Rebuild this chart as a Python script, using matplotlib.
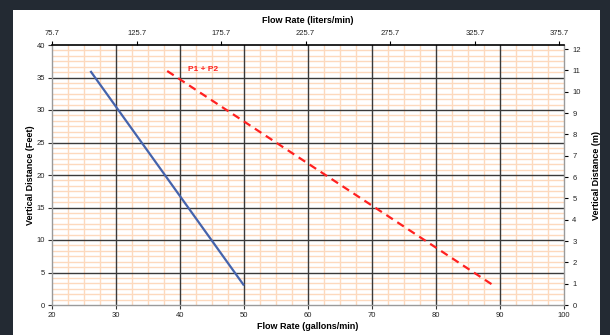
import matplotlib
matplotlib.use("Agg")
import matplotlib.pyplot as plt
from matplotlib.patches import Rectangle
from matplotlib.ticker import MultipleLocator
import numpy as np

# Data (gallons/min vs feet)
pump_gpm = [26, 50]
pump_ft = [36, 3]
combo_gpm = [38, 89]
combo_ft = [36, 3]
combo_label = "P1 + P2"

x_ticks = [20, 30, 40, 50, 60, 70, 80, 90, 100]
y_ticks = [0, 5, 10, 15, 20, 25, 30, 35, 40]
liter_ticks = [75.7, 125.7, 175.7, 225.7, 275.7, 325.7, 375.7]
meter_ticks = list(range(0, 13))

GAL_TO_L = 3.785
FT_TO_M = 0.3048

plt.rcParams["font.family"] = ["Liberation Sans", "DejaVu Sans"]

W, H = 610, 335
fig = plt.figure(figsize=(W / 100, H / 100), dpi=100)
fig.patch.set_facecolor("#232a33")
bg = Rectangle((13 / W, 0), (600 - 13) / W, (H - 10) / H,
               transform=fig.transFigure, facecolor="white",
               edgecolor="none", zorder=-10)
fig.add_artist(bg)

ax = fig.add_axes([52 / W, 1 - 305 / H, (564 - 52) / W, (305 - 45) / H])
ax.set_facecolor("white")
ax.set_xlim(20, 100)
ax.set_ylim(0, 40)

# minor grid
ax.xaxis.set_minor_locator(MultipleLocator(2.5))
ax.yaxis.set_minor_locator(MultipleLocator(5 / 6))
ax.grid(which="minor", color="#fdd9bd", lw=1.0, zorder=1)
ax.grid(which="major", visible=False)
for xv in x_ticks[1:-1]:
    ax.axvline(xv, color="#3a3a3a", lw=1.0, zorder=2)
for yv in y_ticks[1:-1]:
    ax.axhline(yv, color="#3a3a3a", lw=1.0, zorder=2)
ax.set_axisbelow(True)

ax.plot(pump_gpm, pump_ft, color="#4563ac", lw=1.6, zorder=4,
        solid_capstyle="butt")
ax.plot(combo_gpm, combo_ft, color="#ff2020", lw=1.6, ls=(0, (3.5, 2.4)),
        zorder=4)
ax.text(41.2, 36.3, combo_label, color="#ff2020", fontsize=6,
        fontweight="bold", va="center", ha="left", zorder=5)

ax.set_xticks(x_ticks)
ax.set_yticks(y_ticks)
ax.tick_params(axis="both", which="major", labelsize=5.5, length=3,
               width=0.8, color="#333333", labelcolor="#222222", pad=2)
ax.tick_params(axis="both", which="minor", length=0)
ax.set_xlabel("Flow Rate (gallons/min)", fontsize=6.5, fontweight="bold", labelpad=2)
ax.set_ylabel("Vertical Distance (Feet)", fontsize=6.5, fontweight="bold", labelpad=1)

for s in ["left", "bottom", "right"]:
    ax.spines[s].set_color("#9a9a9a")
    ax.spines[s].set_linewidth(1.0)
ax.spines["top"].set_color("black")
ax.spines["top"].set_linewidth(1.2)

top = ax.secondary_xaxis("top", functions=(lambda g: g * GAL_TO_L,
                                            lambda l: l / GAL_TO_L))
top.set_xticks(liter_ticks)
top.set_xticklabels([f"{v:.1f}" for v in liter_ticks])
top.tick_params(labelsize=5.5, length=3, width=0.8, pad=3, labelcolor="#222222")
top.set_xlabel("Flow Rate (liters/min)", fontsize=6.5, fontweight="bold", labelpad=5)
top.spines["top"].set_visible(False)

right = ax.secondary_yaxis("right", functions=(lambda f: f * FT_TO_M,
                                                lambda m: m / FT_TO_M))
right.set_yticks(meter_ticks)
right.tick_params(labelsize=5.5, length=3, width=0.8, pad=3, labelcolor="#222222")
right.set_ylabel("Vertical Distance (m)", fontsize=6.5, fontweight="bold", labelpad=8)
right.spines["right"].set_visible(False)

fig.savefig("out.png", dpi=100, facecolor=fig.get_facecolor())
